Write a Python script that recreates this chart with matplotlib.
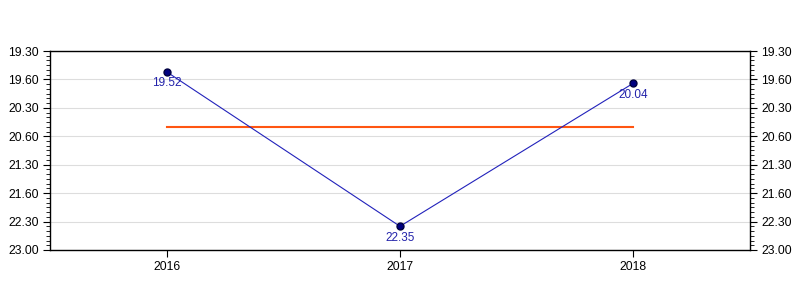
import matplotlib
matplotlib.use("Agg")
import matplotlib.pyplot as plt
from matplotlib.ticker import FixedLocator, MultipleLocator

# Race times as min.sec strings
years = [2016, 2017, 2018]
times = ["19.52", "22.35", "20.04"]

# axis labels as printed on the original chart
tick_values = [19.5, 20.0, 20.5, 21.0, 21.5, 22.0, 22.5, 23.0]
tick_labels = ["19.30", "19.60", "20.30", "20.60", "21.30", "21.60", "22.30", "23.00"]


def to_minutes(s):
    m, sec = s.split(".")
    return int(m) + int(sec) / 60.0


minutes = [to_minutes(t) for t in times]
average = sum(minutes) / len(minutes)

plt.rcParams["font.family"] = ["Liberation Sans", "DejaVu Sans"]

fig = plt.figure(figsize=(8, 3), dpi=100)
ax = fig.add_axes([0.0625, 0.1667, 0.875, 0.6633])

ax.plot(years, minutes, color="#2222bb", linewidth=0.8, zorder=3)
ax.plot(years, minutes, "o", color="#000080", markersize=5, markeredgecolor="#000040", zorder=4)
ax.plot([years[0], years[-1]], [average, average], color="#ff5511", linewidth=1.5, zorder=2)

for x, y, t in zip(years, minutes, times):
    ax.annotate(t, (x, y), xytext=(0, -4), textcoords="offset points",
                ha="center", va="top", fontsize=8.5, color="#2222aa")

ax.set_xlim(2015.5, 2018.5)
ax.set_ylim(23.0, 19.5)
ax.set_xticks(years)
ax.set_xticklabels([str(y) for y in years])
ax.yaxis.set_major_locator(FixedLocator(tick_values))
ax.set_yticklabels(tick_labels)
ax.yaxis.set_minor_locator(MultipleLocator(1 / 12))
ax.tick_params(axis="both", which="major", labelsize=8.7, length=5, width=0.8, colors="black", pad=3)
ax.tick_params(axis="y", which="major", right=True, labelright=True)
ax.tick_params(axis="y", which="minor", left=True, right=True, length=3, width=0.6, direction="out")

ax.grid(axis="y", which="major", color="#dddddd", linewidth=0.8)
ax.set_axisbelow(True)
for sp in ax.spines.values():
    sp.set_color("black")
    sp.set_linewidth(1)

fig.savefig("out.png", dpi=100)
